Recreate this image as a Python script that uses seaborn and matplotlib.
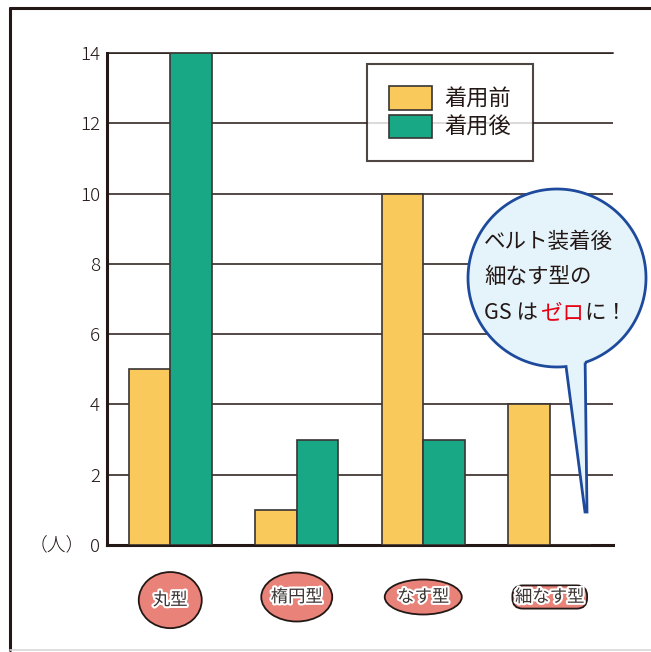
import numpy as np
import pandas as pd
import seaborn as sns
import matplotlib.pyplot as plt
import matplotlib.transforms as mtransforms
import matplotlib.patheffects as pe
from matplotlib.patches import Ellipse, PathPatch
from matplotlib.path import Path
from matplotlib.lines import Line2D

categories = ['丸型', '楕円型', 'なす型', '細なす型']
before = [5, 1, 10, 4]
after = [14, 3, 3, 0]
series = ['着用前', '着用後']
yticks = [0, 2, 4, 6, 8, 10, 12, 14]

df = pd.DataFrame({
    'type': categories * 2,
    'value': before + after,
    'when': [series[0]] * 4 + [series[1]] * 4,
})

ink = '#231815'
yellow = '#F9C95C'
green = '#19A886'
pink = '#E9837A'

sns.set_style('white')
plt.rcParams['font.family'] = ['Noto Sans CJK JP', 'DejaVu Sans']

fig = plt.figure(figsize=(6.51, 6.52), dpi=100)
ax = fig.add_axes([107 / 651, 107 / 652, 506 / 651, 492 / 652])

sns.barplot(data=df, x='type', y='value', hue='when', order=categories,
            hue_order=series, palette=[yellow, green], width=0.66,
            edgecolor='#3a3433', linewidth=1.2, saturation=1, ax=ax, zorder=3)

ax.set_xlim(-0.5, 3.5)
ax.set_ylim(0, 14)
ax.set_yticks(yticks)
ax.set_xlabel('')
ax.set_ylabel('')
ax.grid(axis='y', color=ink, linewidth=1.1, zorder=0)
ax.set_axisbelow(True)

ax.spines['right'].set_visible(False)
ax.spines['top'].set_color(ink)
ax.spines['top'].set_linewidth(1.1)
ax.spines['left'].set_color(ink)
ax.spines['left'].set_linewidth(2.2)
ax.spines['bottom'].set_color(ink)
ax.spines['bottom'].set_linewidth(2.2)

ax.tick_params(axis='y', length=0, pad=5, labelsize=13.5, labelcolor=ink)
for lab in ax.get_yticklabels():
    lab.set_fontweight('light')
ax.set_xticks([0.5, 1.5, 2.5, 3.5], minor=True)
ax.tick_params(axis='x', which='major', length=0, labelbottom=False)
ax.tick_params(axis='x', which='minor', direction='in', length=6, width=1.3,
               color='#4a4443')

trans = mtransforms.blended_transform_factory(ax.transAxes, ax.transData)
ax.text(-0.043, 0, '（人）', transform=trans, ha='right', va='center',
        fontsize=13.5, color=ink, fontweight='light')

# legend
leg = ax.legend(loc='upper left', bbox_to_anchor=(0.514, 0.978), fontsize=16,
                frameon=True, fancybox=False, borderpad=1.0, handlelength=1.9,
                handleheight=1.25, handletextpad=0.55, labelspacing=0.2,
                borderaxespad=0)
leg.get_frame().set_edgecolor(ink)
leg.get_frame().set_linewidth(1.5)
for t in leg.get_texts():
    t.set_color(ink)

# category badges below the axis
xtrans = mtransforms.blended_transform_factory(ax.transData, ax.transAxes)
shapes = [(0.498, 0.114, -0.112), (0.561, 0.0996, -0.1057), (0.609, 0.0711, -0.1057)]
halo = [pe.withStroke(linewidth=3, foreground='white')]
for i, (w, h, yc) in enumerate(shapes):
    ax.add_patch(Ellipse((i, yc), w, h, transform=xtrans, facecolor=pink,
                         edgecolor=ink, linewidth=1.3, clip_on=False))
    ax.text(i, yc, categories[i], transform=xtrans, ha='center', va='center',
            fontsize=12.5, color='#3a3433', path_effects=halo)
ax.text(3, -0.1057, categories[3], transform=xtrans, ha='center', va='center',
        fontsize=12.5, color='#3a3433', path_effects=halo,
        bbox=dict(boxstyle='round,pad=0.15,rounding_size=0.6', facecolor=pink,
                  edgecolor=ink, linewidth=1.3))

# speech bubble (pixel coordinates, origin top-left)
px = mtransforms.Affine2D().scale(1 / 651, -1 / 652).translate(0, 1) + fig.transFigure
cx, cy, r = 557, 278, 89
a1 = np.degrees(np.arctan2(-(365 - cy), 586 - cx))
a2 = np.degrees(np.arctan2(-(366 - cy), 566 - cx)) + 360
th = np.radians(np.linspace(a1, a2, 200))
pts = [(cx + r * np.cos(t), cy - r * np.sin(t)) for t in th]
pts += [(585, 512), (587, 512), pts[0]]
bubble = PathPatch(Path(pts), transform=px, facecolor='#E5F4FB',
                   edgecolor='#1D4A9C', linewidth=2, zorder=5)
fig.add_artist(bubble)

fs = 15.5
fig.text(484 / 651, 1 - 242 / 652, 'ベルト装着後', fontsize=fs, color=ink,
         va='center', zorder=6)
fig.text(484 / 651, 1 - 277 / 652, '細なす型の', fontsize=fs, color=ink,
         va='center', zorder=6)
t1 = fig.text(484 / 651, 1 - 313 / 652, 'GS は', fontsize=fs, color=ink,
              va='center', zorder=6)
fig.canvas.draw()
inv = fig.transFigure.inverted()
x2 = inv.transform((t1.get_window_extent().x1 + 3, 0))[0]
t2 = fig.text(x2, 1 - 313 / 652, 'ゼロ', fontsize=fs, color='#E60012',
              va='center', zorder=6)
fig.canvas.draw()
x3 = inv.transform((t2.get_window_extent().x1, 0))[0]
fig.text(x3, 1 - 313 / 652, 'に！', fontsize=fs, color=ink, va='center', zorder=6)

# outer frame
fig.add_artist(Line2D([10 / 651, 1.02], [1 - 8 / 652] * 2, transform=fig.transFigure,
                      color=ink, linewidth=2.2))
fig.add_artist(Line2D([10 / 651] * 2, [1 - 8 / 652, 1 - 650 / 652],
                      transform=fig.transFigure, color=ink, linewidth=2.2))
fig.add_artist(Line2D([10 / 651, 1.02], [1 - 650 / 652] * 2, transform=fig.transFigure,
                      color='#d8d8d8', linewidth=1.2))

fig.savefig('out.png', dpi=100)
